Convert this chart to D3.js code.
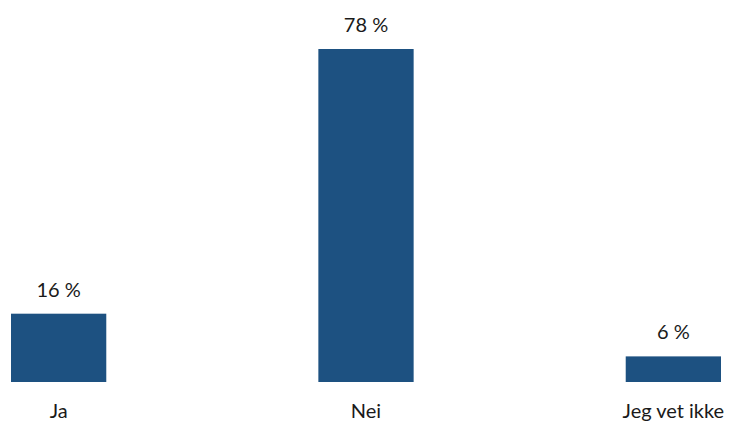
<!DOCTYPE html>
<html>
<head>
<meta charset="utf-8">
<script src="https://cdn.jsdelivr.net/npm/d3@7"></script>
<style>
  html, body { margin: 0; padding: 0; background: #fff; }
  svg { display: block; }
  text { font-family: Lato, "Open Sans", sans-serif; fill: #1a1a1a; }
</style>
</head>
<body>
<svg id="chart" width="729" height="421"></svg>
<script>
// Survey answers and their shares (percent)
const categories = ["Ja", "Nei", "Jeg vet ikke"];
const values = [16, 78, 6];
const valueLabels = ["16 %", "78 %", "6 %"];

const W = 729, H = 421;
const svg = d3.select("#chart");

const x = d3.scaleBand()
  .domain(categories)
  .range([11, 721])
  .paddingInner(0.69)
  .paddingOuter(0);

const y = d3.scaleLinear()
  .domain([0, d3.max(values)])
  .range([382, 49]);

const data = categories.map((c, i) => ({ c, v: values[i], label: valueLabels[i] }));

svg.append("g").selectAll("rect")
  .data(data)
  .join("rect")
  .attr("x", d => x(d.c))
  .attr("y", d => y(d.v))
  .attr("width", x.bandwidth())
  .attr("height", d => y(0) - y(d.v))
  .attr("fill", "#1d5181");

svg.append("g").selectAll("text")
  .data(data)
  .join("text")
  .attr("x", d => x(d.c) + x.bandwidth() / 2)
  .attr("y", d => y(d.v) - 17)
  .attr("text-anchor", "middle")
  .attr("font-size", 20)
  .text(d => d.label);

// Category axis labels (no axis line)
const xAxis = svg.append("g")
  .attr("transform", `translate(0, ${y(0)})`)
  .call(d3.axisBottom(x).tickSize(0).tickPadding(22));
xAxis.select(".domain").remove();
xAxis.selectAll("text")
  .attr("font-size", 20)
  .attr("font-family", "Lato, 'Open Sans', sans-serif")
  .attr("fill", "#1a1a1a")
  .attr("dy", "0.71em");
</script>
</body>
</html>
